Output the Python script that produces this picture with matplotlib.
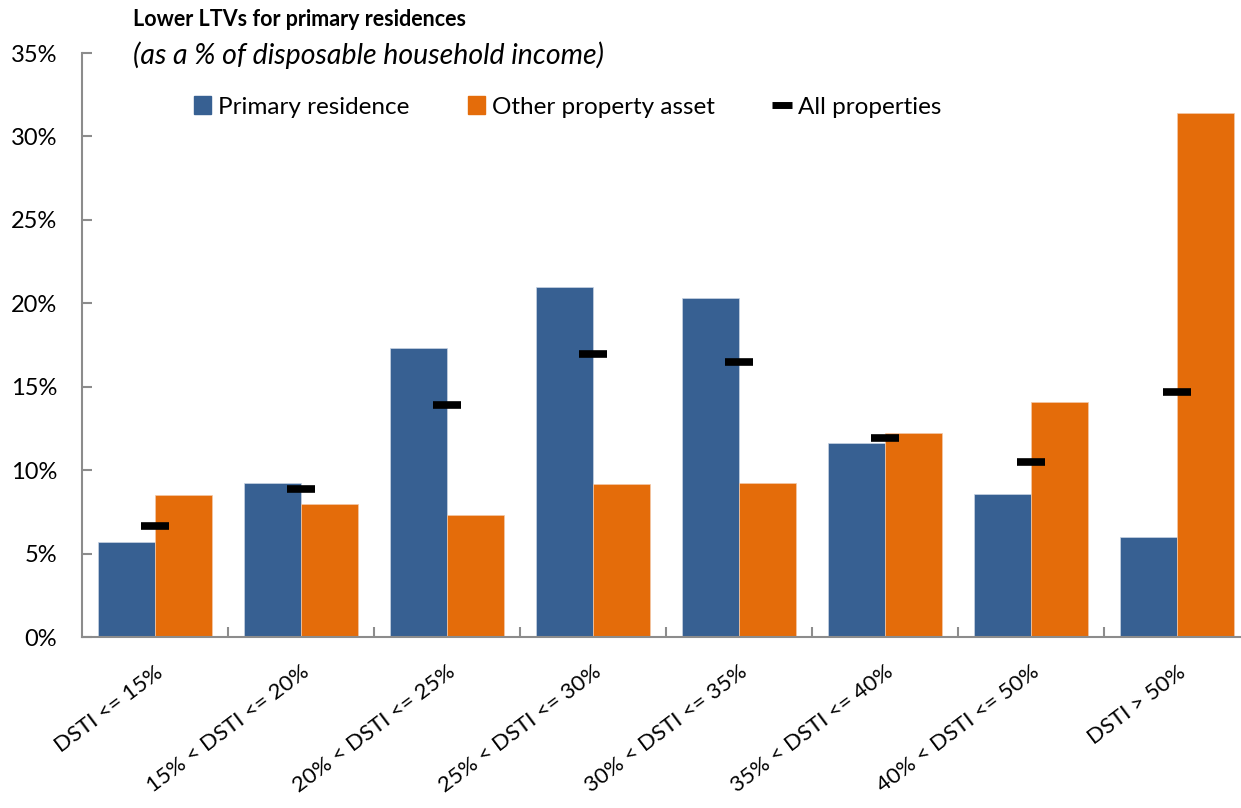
import numpy as np
import matplotlib
matplotlib.use("Agg")
from matplotlib import pyplot as plt
from matplotlib.lines import Line2D
from matplotlib.patches import Patch

categories = ["DSTI <= 15%", "15% < DSTI <= 20%", "20% < DSTI <= 25%", "25% < DSTI <= 30%",
              "30% < DSTI <= 35%", "35% < DSTI <= 40%", "40% < DSTI <= 50%", "DSTI > 50%"]
primary = [5.7, 9.25, 17.3, 21.0, 20.3, 11.65, 8.6, 6.0]
other = [8.5, 7.97, 7.3, 9.15, 9.2, 12.2, 14.1, 31.4]
all_props = [6.65, 8.85, 13.9, 16.95, 16.5, 11.9, 10.5, 14.7]

BLUE = "#376092"
ORANGE = "#E46C0A"
GREY = "#8C8C8C"

plt.rcParams['font.family'] = ['Lato', 'DejaVu Sans']

fig = plt.figure(figsize=(12.41, 8.08), dpi=100)
ax = fig.add_axes([82 / 1241, 1 - 637 / 808, 1168 / 1241, (637 - 53) / 808])

x = np.arange(len(categories))
w = 0.39
ax.bar(x - w / 2, primary, w, color=BLUE, edgecolor="#c8d3e3", linewidth=0.5)
ax.bar(x + w / 2, other, w, color=ORANGE, edgecolor="#f3c9a8", linewidth=0.5)
ax.plot(x, all_props, linestyle="none", marker="_", ms=20, mew=5.5, color="black")

ax.set_xlim(-0.5, len(categories) - 0.5)
ax.set_ylim(0, 35)
ax.set_yticks(np.arange(0, 36, 5))
ax.set_yticklabels([f"{v}%" for v in range(0, 36, 5)], fontsize=17)
ax.set_xticks(x)
ax.set_xticklabels(categories, rotation=37, ha="right", rotation_mode="anchor", fontsize=16)
ax.set_xticks(np.arange(0.5, len(categories) - 0.5, 1), minor=True)
ax.tick_params(axis="x", which="major", length=0, pad=18)
ax.tick_params(axis="x", which="minor", direction="in", length=7, color=GREY, width=1.5)
ax.tick_params(axis="y", direction="in", length=7, color=GREY, width=1.5, pad=18)

for s in ["top", "right"]:
    ax.spines[s].set_visible(False)
for s in ["left", "bottom"]:
    ax.spines[s].set_color(GREY)
    ax.spines[s].set_linewidth(1.5)

fig.text(133 / 1241, 1 - 19 / 808, "Lower LTVs for primary residences", fontsize=15.5,
         fontweight="bold", va="center", ha="left")
fig.text(133 / 1241, 1 - 55 / 808, "(as a % of disposable household income)", fontsize=20.5,
         fontstyle="italic", va="center", ha="left")

handles = [Patch(color=BLUE), Patch(color=ORANGE),
           Line2D([], [], linestyle="none", marker="_", ms=14, mew=5, color="black")]
labels = ["Primary residence", "Other property asset", "All properties"]
fig.legend(handles, labels, loc="center left", bbox_to_anchor=(194 / 1241, 1 - 107 / 808),
           ncol=3, frameon=False, fontsize=17.5, handlelength=0.7, handleheight=0.7,
           handletextpad=0.3, columnspacing=2.4, borderpad=0, borderaxespad=0)

fig.savefig("out.png", dpi=100)
